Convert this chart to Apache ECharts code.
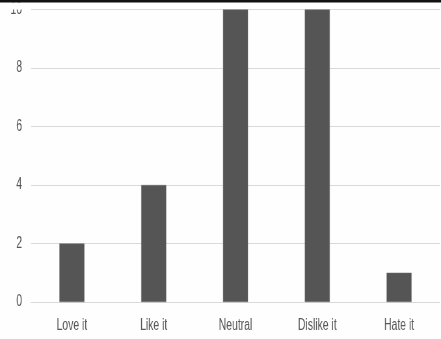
<!DOCTYPE html>
<html>
<head>
<meta charset="utf-8">
<script src="https://cdn.jsdelivr.net/npm/echarts@6/dist/echarts.min.js"></script>
<style>
  html, body { margin: 0; padding: 0; background: #fefefe; overflow: hidden; }
  /* The chart is laid out wider and squeezed horizontally so the
     labels get the tall, narrow look of a condensed typeface. */
  #wrap { width: 441px; height: 339px; overflow: hidden; }
  #chart { width: 678px; height: 339px; transform: scaleX(0.6504); transform-origin: 0 0; }
</style>
</head>
<body>
<div id="wrap"><div id="chart"></div></div>
<script>
// Survey responses per answer
const categories = ['Love it', 'Like it', 'Neutral', 'Dislike it', 'Hate it'];
const counts = [2, 4, 10, 10, 1];
const yTicks = [0, 2, 4, 6, 8, 10];

const SX = 0.6504;               // horizontal squeeze applied by CSS
const px = v => v / SX;          // on-screen horizontal pixels -> layout pixels

const labelFont = '"Liberation Sans", Arial, sans-serif';
const bg = '#fefefe';

const chart = echarts.init(document.getElementById('chart'), null, { renderer: 'canvas' });
chart.setOption({
  animation: false,
  backgroundColor: bg,
  grid: { left: px(31), right: px(1), top: 9.5, bottom: 37, containLabel: false },
  graphic: [
    // top edge of the frame: a dark rule, with the strip just below it cut clean
    {
      type: 'rect',
      shape: { x: 0, y: 2.5, width: px(29), height: 7 },
      style: { fill: bg },
      z: 99
    },
    {
      type: 'rect',
      shape: { x: 0, y: 0, width: px(441), height: 2.5 },
      style: { fill: '#111111' },
      z: 100
    }
  ],
  xAxis: {
    type: 'category',
    data: categories,
    axisLine: { show: true, lineStyle: { color: '#d9d9d9', width: 1 } },
    axisTick: { show: false },
    axisLabel: { color: '#595959', fontFamily: labelFont, fontSize: 16, margin: 16 }
  },
  yAxis: {
    type: 'value',
    min: yTicks[0],
    max: yTicks[yTicks.length - 1],
    interval: 2,
    axisLine: { show: false },
    axisTick: { show: false },
    axisLabel: { color: '#595959', fontFamily: labelFont, fontSize: 16, margin: px(9) },
    splitLine: { lineStyle: { color: '#d9d9d9', width: 1 } }
  },
  series: [{
    type: 'bar',
    data: counts,
    barWidth: px(25),
    itemStyle: { color: '#555555', borderColor: '#6a6a6a', borderWidth: 0.5 }
  }]
});
</script>
</body>
</html>
